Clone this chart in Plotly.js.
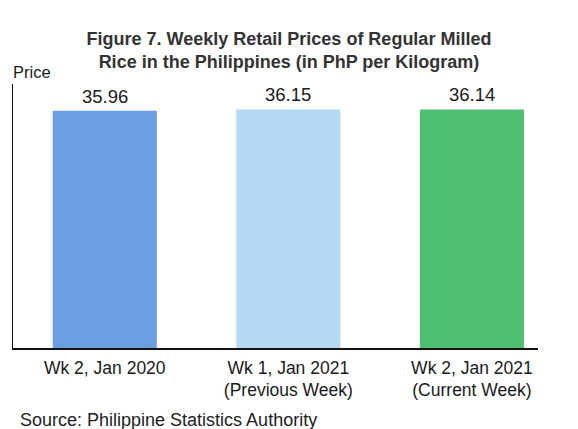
<!DOCTYPE html>
<html>
<head>
<meta charset="utf-8">
<script src="https://cdn.plot.ly/plotly-3.0.1.min.js"></script>
<style>html,body{margin:0;padding:0;background:#fff;}#chart{width:578px;height:429px;}</style>
</head>
<body>
<div id="chart"></div>
<script>
const categories = ["Wk 2, Jan 2020", "Wk 1, Jan 2021<br>(Previous Week)", "Wk 2, Jan 2021<br>(Current Week)"];
const prices = [35.96, 36.15, 36.14];
const priceLabels = ["35.96", "36.15", "36.14"];
const barColors = ["#6aa0e2", "#b3d9f3", "#4fbf72"];

const FONT = "Liberation Sans, Arial, sans-serif";

const trace = {
  type: "bar",
  x: categories,
  y: prices,
  marker: { color: barColors, line: { width: 0 } },
  hoverinfo: "none"
};

const annotations = categories.map((c, i) => ({
  x: c, y: prices[i], xref: "x", yref: "y",
  text: priceLabels[i], showarrow: false,
  yanchor: "bottom", yshift: 2,
  font: { family: FONT, size: 18.5, color: "#1a1a1a" }
}));

annotations.push({
  xref: "paper", yref: "paper", x: -0.003, y: 1.0, xanchor: "left", yanchor: "bottom",
  text: "Price", showarrow: false, yshift: 1,
  font: { family: FONT, size: 16.5, color: "#1a1a1a" }
});
annotations.push({
  xref: "paper", yref: "paper", x: 0.01, y: -0.272, xanchor: "left", yanchor: "middle",
  text: "Source: Philippine Statistics Authority", showarrow: false,
  font: { family: FONT, size: 18, color: "#222" }
});

const layout = {
  width: 578, height: 429,
  margin: { l: 13, r: 40, t: 84, b: 81 },
  paper_bgcolor: "#fff", plot_bgcolor: "#fff",
  showlegend: false,
  bargap: 0.433,
  title: {
    text: "<b>Figure 7. Weekly Retail Prices of Regular Milled<br>Rice in the Philippines (in PhP per Kilogram)</b>",
    x: 0.5, xanchor: "center", y: 0.895, yanchor: "top",
    font: { family: FONT, size: 18, color: "#333" }
  },
  xaxis: {
    type: "category",
    range: [-0.5, 2.36],
    showline: true, linecolor: "#111", linewidth: 1.5,
    showgrid: false, zeroline: false, ticks: "",
    ticklabelstandoff: 3,
    tickfont: { family: FONT, size: 17.5, color: "#1a1a1a" },
    fixedrange: true
  },
  yaxis: {
    range: [0, 40],
    showline: true, linecolor: "#111", linewidth: 1.5,
    showgrid: false, zeroline: false, showticklabels: false, ticks: "",
    fixedrange: true
  },
  annotations: annotations
};

Plotly.newPlot("chart", [trace], layout, { displayModeBar: false, staticPlot: true });
</script>
</body>
</html>
